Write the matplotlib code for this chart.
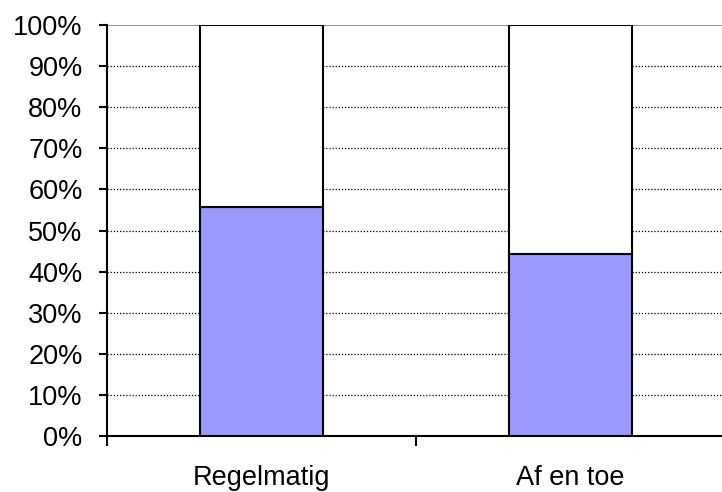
import numpy as np
import matplotlib.pyplot as plt

plt.rcParams['font.family'] = ['Liberation Sans', 'DejaVu Sans']

# data
categories = ['Regelmatig', 'Af en toe']
blue_pct = [55.6, 44.4]
white_pct = [100 - v for v in blue_pct]

fig = plt.figure(figsize=(7.22, 4.92), dpi=100)
ax = fig.add_axes([0.148, 0.114, 0.856, 0.835])

x = np.arange(len(categories)) + 0.5
ax.bar(x, blue_pct, width=0.4, color='#9999FF', edgecolor='black', linewidth=1.5, zorder=3)
ax.bar(x, white_pct, bottom=blue_pct, width=0.4, color='white', edgecolor='black', linewidth=1.5, zorder=3)

ax.set_xlim(0, 2)
ax.set_ylim(0, 100)

yt = np.arange(0, 101, 10)
ax.set_yticks(yt)
ax.set_yticklabels([f'{v}%' for v in yt], fontsize=19.5)
for v in yt[1:-1]:
    ax.axhline(v, color='black', linestyle=(0, (1, 1.5)), linewidth=0.9, zorder=1)
ax.axhline(100, color='#999999', linewidth=1.5, zorder=1)

ax.set_xticks([0, 1, 2])
ax.set_xticklabels([])
ax.set_xticks(x, minor=True)
ax.set_xticklabels(categories, minor=True, fontsize=19.5)
ax.tick_params(axis='x', which='minor', length=0, pad=21)
ax.tick_params(axis='x', which='major', length=7, width=1.5, direction='out')
ax.tick_params(axis='y', length=5.5, width=1.5, direction='out', pad=12)

for s in ['top', 'right']:
    ax.spines[s].set_visible(False)
ax.spines['left'].set_linewidth(1.5)
ax.spines['bottom'].set_linewidth(1.5)

plt.savefig('out.png', dpi=100)
